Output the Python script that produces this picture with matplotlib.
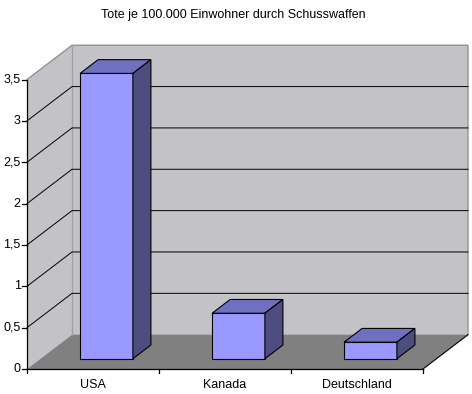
import matplotlib.pyplot as plt
from matplotlib.patches import Polygon

# data
categories = ['USA', 'Kanada', 'Deutschland']
values = [3.45, 0.55, 0.2]
yticks = [0, 0.5, 1, 1.5, 2, 2.5, 3, 3.5]
ytick_labels = ['0', '0,5', '1', '1,5', '2', '2,5', '3', '3,5']
title = 'Tote je 100.000 Einwohner durch Schusswaffen'

# excel-ish 3d look
wall_col = '#c3c2c6'
floor_col = '#808080'
edge_gray = '#8c8c8c'
front_col = '#9999ff'
top_col = '#7070c0'
side_col = '#4d4d80'

dx, dy = 0.341, 0.415      # depth offset in data units
ymax = 3.5
ncat = len(categories)


def poly(ax, pts, fc, ec='none', lw=0.8, z=1):
    ax.add_patch(Polygon(pts, closed=True, facecolor=fc, edgecolor=ec, linewidth=lw, zorder=z))


def main():
    plt.rcParams['font.family'] = ['Liberation Sans', 'DejaVu Sans']
    fig = plt.figure(figsize=(4.72, 3.94), dpi=100)
    ax = fig.add_axes([0, 0, 1, 1])
    ax.set_xlim(-27 / 132, 445 / 132)
    ax.set_ylim(-25 / 82.7, 369 / 82.7)
    ax.axis('off')

    # walls + floor
    poly(ax, [(dx, dy), (ncat + dx, dy), (ncat + dx, ymax + dy), (dx, ymax + dy)], wall_col)
    poly(ax, [(0, 0), (dx, dy), (dx, ymax + dy), (0, ymax)], wall_col)
    poly(ax, [(0, 0), (ncat, 0), (ncat + dx, dy), (dx, dy)], floor_col)

    # wall outlines
    ax.plot([0, dx, ncat + dx, ncat + dx], [ymax, ymax + dy, ymax + dy, dy], color=edge_gray, lw=0.9, zorder=2)
    ax.plot([dx, dx], [dy, ymax + dy], color='#a0a0a0', lw=0.9, zorder=2)
    ax.plot([ncat, ncat + dx], [0, dy], color='black', lw=0.8, zorder=2)

    # gridlines
    for v in yticks[1:-1]:
        ax.plot([0, dx, ncat + dx], [v, v + dy, v + dy], color='black', lw=0.7, zorder=2)

    # axes
    ax.plot([0, 0], [0, ymax], color='black', lw=0.9, zorder=3)
    ax.plot([0, ncat], [0, 0], color='black', lw=0.9, zorder=3)
    for v, lab in zip(yticks, ytick_labels):
        ax.plot([-0.04, 0], [v, v], color='black', lw=0.9, zorder=3)
        ax.text(-0.048, v, lab, ha='right', va='center', fontsize=9)
    for i in range(ncat + 1):
        ax.plot([i, i], [0, -0.05], color='black', lw=0.9, zorder=3)
    for i, c in enumerate(categories):
        ax.text(i + 0.5, -0.19, c, ha='center', va='center', fontsize=9)

    # bars
    d0, d1 = 0.3, 0.7
    for i, v in enumerate(values):
        x0 = i + 0.3 + d0 * dx
        x1 = i + 0.7 + d0 * dx
        yb = d0 * dy
        ox, oy = (d1 - d0) * dx, (d1 - d0) * dy
        poly(ax, [(x0, yb), (x1, yb), (x1, yb + v), (x0, yb + v)], front_col, 'black', z=4)
        poly(ax, [(x0, yb + v), (x1, yb + v), (x1 + ox, yb + v + oy), (x0 + ox, yb + v + oy)], top_col, 'black', z=4)
        poly(ax, [(x1, yb), (x1 + ox, yb + oy), (x1 + ox, yb + v + oy), (x1, yb + v)], side_col, 'black', z=4)

    fig.text(233 / 472, 1 - 15 / 394, title, ha='center', va='center', fontsize=9)

    fig.savefig('out.png', dpi=100)


if __name__ == '__main__':
    main()
